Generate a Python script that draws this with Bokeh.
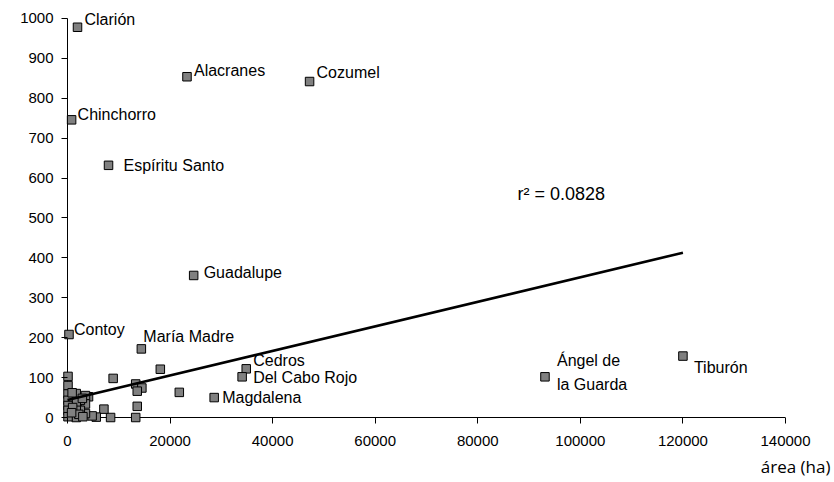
from bokeh.plotting import figure
from bokeh.models import Range1d, FixedTicker, ColumnDataSource, Label, Title, NumeralTickFormatter
from bokeh.embed import file_html
from bokeh.resources import INLINE
from bokeh.core.properties import value

# ---- data ----
labeled_names = ["Clarión", "Alacranes", "Cozumel", "Chinchorro", "Espíritu Santo",
                 "Guadalupe", "Contoy", "María Madre", "Cedros", "Del Cabo Rojo",
                 "Magdalena", "Ángel de\nla Guarda", "Tiburón"]
labeled_area = [1950, 23300, 47200, 800, 8000, 24600, 290, 14400, 34850, 34050,
                28600, 93100, 120000]
labeled_value = [978, 854, 842, 746, 632, 356, 208, 172, 122, 102, 50, 102, 154]

other_area = [8900, 18100, 13300, 14500, 13600, 21800, 13600, 13300, 8400, 7100,
              5600, 4800, 4100, 3500, 3500, 3500, 2500, 2500, 1700, 1700, 1700,
              1700, 100, 100, 100, 100, 100, 100, 100, 900, 1000, 2900, 2200,
              3000, 800]
other_value = [98, 121, 84, 74, 66, 63, 28, 0, 0, 21,
               1, 4, 52, 55, 34, 10, 43, 18, 60, 38, 18,
               0, 103, 80, 59, 43, 30, 18, 2, 62, 25, 48, 8,
               2, 12]

trend_area = [0, 120000]
trend_value = [44, 413]
r2_text = "r² =  0.0828"
x_title = "área (ha)"

x_ticks = [0, 20000, 40000, 60000, 80000, 100000, 120000, 140000]
y_ticks = [0, 100, 200, 300, 400, 500, 600, 700, 800, 900, 1000]

# ---- layout / style (pixel offsets of the point labels) ----
label_dx = [7, 7, 7, 6, 15, 10, 5, 2, 7, 11, 8, 12, 11]
label_dy = [-8, -6, -9, -5, 0, -3, -5, -12, -8, 1, 0, -4, 11]

FONT = "Liberation Sans"
x_max = x_ticks[-1]
y_max = y_ticks[-1]

p = figure(width=834, height=482, output_backend="svg", toolbar_location=None,
           x_range=Range1d(-1170, x_max), y_range=Range1d(-15, y_max + 25),
           min_border_left=61, min_border_right=49, min_border_top=8,
           min_border_bottom=59)
p.xgrid.visible = False
p.ygrid.visible = False
p.outline_line_color = None
p.background_fill_color = "white"
p.border_fill_color = "white"

for ax in (p.xaxis[0], p.yaxis[0]):
    ax.axis_line_color = None
    ax.major_tick_in = 6
    ax.major_tick_out = 0
    ax.minor_tick_line_color = None
    ax.major_tick_line_color = "black"
    ax.major_tick_line_width = 1
    ax.major_label_text_font = FONT
    ax.major_label_text_font_size = "15px"
    ax.major_label_text_color = "black"
    ax.major_label_text_font_style = "normal"
    ax.formatter = NumeralTickFormatter(format="0")

p.xaxis[0].ticker = FixedTicker(ticks=x_ticks)
p.yaxis[0].ticker = FixedTicker(ticks=y_ticks)
p.xaxis[0].major_label_standoff = 12
p.yaxis[0].major_label_standoff = 8

# axis lines through the origin
p.segment(x0=[0, 0], y0=[0, 0], x1=[0, x_max], y1=[y_max, 0],
          line_color="black", line_width=1)

# points
p.scatter(other_area, other_value, marker="square", size=8.5,
          fill_color="#808080", line_color="black", line_width=1)
src = ColumnDataSource(dict(x=labeled_area, y=labeled_value, name=labeled_names,
                            dx=label_dx, dy=label_dy))
p.scatter("x", "y", source=src, marker="square", size=8.5,
          fill_color="#808080", line_color="black", line_width=1)

# trend line
p.line(trend_area, trend_value, line_color="black", line_width=2.6)

# point labels
p.text("x", "y", text="name", source=src, x_offset="dx", y_offset="dy",
       text_font=value(FONT), text_font_size="16px", text_color="black",
       text_align="left", text_baseline="middle", text_line_height=1.4)

p.add_layout(Label(x=456, y=230, x_units="screen", y_units="screen", text=r2_text,
                   text_font=FONT, text_font_size="18px", text_color="black",
                   text_baseline="middle", text_align="left"))
p.add_layout(Title(text=x_title, align="right", offset=-45, standoff=8,
                   text_font="Open Sans", text_font_size="17px",
                   text_font_style="normal", text_color="black"), "below")

open("out.html", "w").write(file_html(p, INLINE))
